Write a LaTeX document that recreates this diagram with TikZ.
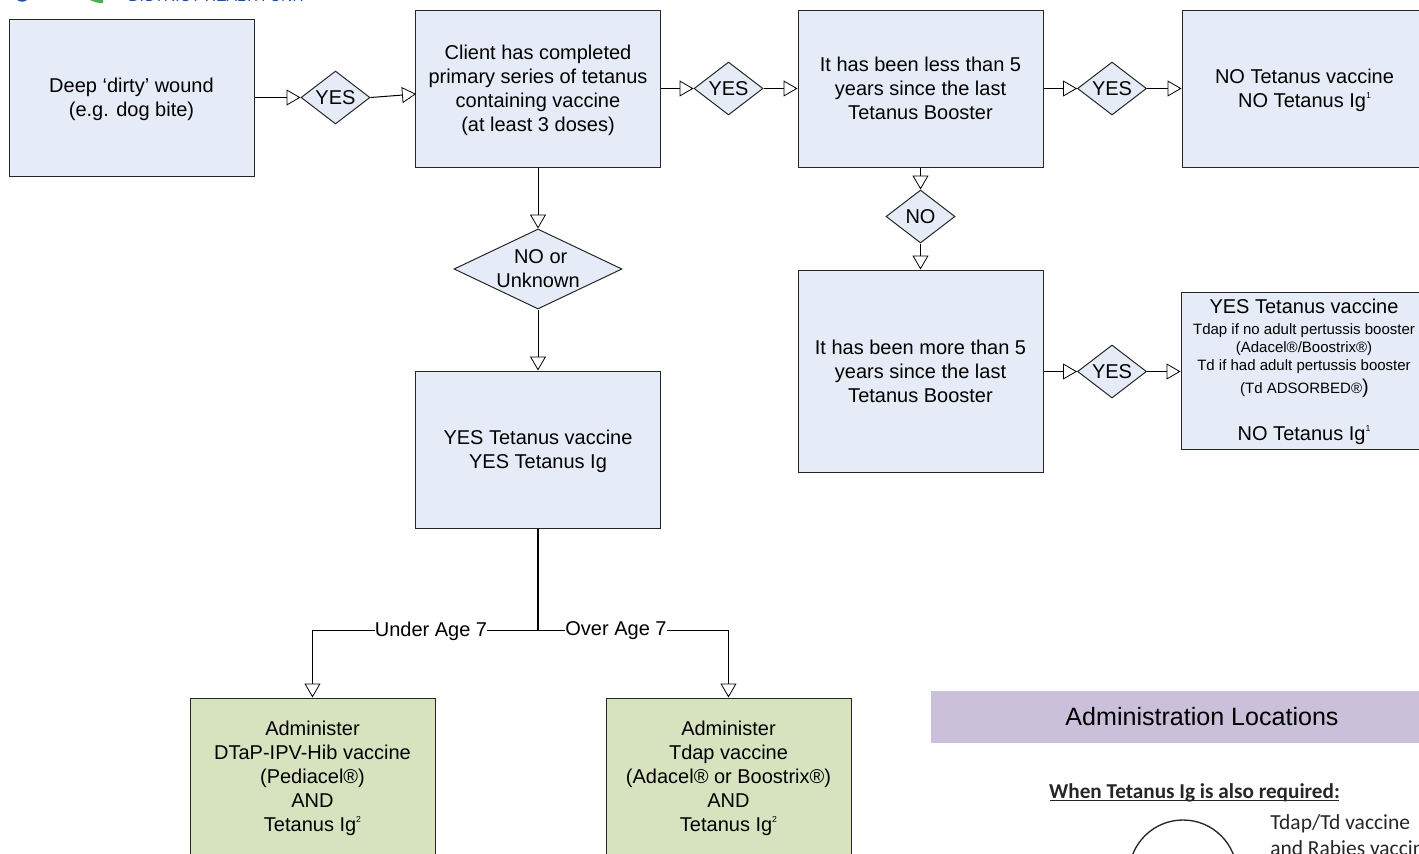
\documentclass[tikz,border=0pt]{standalone}
\usepackage{fontspec}
\setmainfont{Liberation Sans}
\newfontfamily\carl{Carlito}
\usetikzlibrary{arrows.meta,shapes.geometric,calc}
\definecolor{boxblue}{HTML}{E6ECF7}
\definecolor{boxgreen}{HTML}{D7E3BF}
\definecolor{bandpurple}{HTML}{CAC0DA}
\definecolor{logoblue}{HTML}{1F4E9E}
\definecolor{logogreen}{HTML}{4CAF50}
\definecolor{imgtext}{HTML}{262626}
\newcommand{\sm}{\fontsize{11.25}{13.5}\selectfont}
\newcommand{\supn}[1]{\raisebox{0.42em}{\fontsize{6.5}{7}\selectfont #1}}
\tikzset{
  every node/.style={font=\fontsize{15}{18}\selectfont, text=black},
  flowbox/.style={draw=black!85, line width=0.75pt, rectangle, inner sep=0pt, align=center, minimum width=183.75pt, minimum height=117.75pt},
  bluebox/.style={flowbox, fill=boxblue},
  greenbox/.style={flowbox, fill=boxgreen},
  boxtext/.style={inner sep=0pt, align=center, yshift=-1.1pt},
  choice/.style={draw=black!85, line width=0.75pt, diamond, aspect=1.3, inner sep=0pt, fill=boxblue, align=center, minimum width=51.75pt, minimum height=39.75pt},
  flow/.style={draw=black, line width=0.75pt, -{Triangle[open, length=10.5pt, width=12pt, line width=0.6pt]}},
  plainflow/.style={draw=black, line width=0.75pt},
  edgelabel/.style={fill=white, inner xsep=0pt, inner ysep=0.7pt}
}
\begin{document}
\begin{tikzpicture}[x=0.75pt,y=-0.75pt]
\useasboundingbox (0,0) rectangle (1419,853);
\clip (0,0) rectangle (1419,853);
% logo fragments
\fill[logoblue] (17,0) .. controls (20,2) and (24,2.5) .. (27,0) -- cycle;
\fill[logogreen] (90,0) .. controls (94,2) and (99,3.5) .. (103,3) -- (103,0) -- cycle;
\node[anchor=base west, inner sep=0pt, font=\fontsize{11.75}{14}\selectfont, text=logoblue] (logotext) at (128,2) {DISTRICT HEALTH UNIT};
% boxes
\node[bluebox] (A) at (131.5,97.5) {};
\node[boxtext] (Atext) at (A) {Deep ‘dirty’ wound\\(e.g. dog bite)};
\node[bluebox] (B) at (538,88.5) {};
\node[boxtext] (Btext) at (B) {Client has completed\\primary series of tetanus\\containing vaccine\\(at least 3 doses)};
\node[bluebox] (C) at (920.5,88.5) {It has been less than 5\\years since the last\\Tetanus Booster};
\node[bluebox] (D) at (1304.5,88.5) {};
\node[boxtext] (Dtext) at (D) {NO Tetanus vaccine\\NO Tetanus Ig\supn{1}};
\node[bluebox, minimum height=151.5pt] (E) at (920.5,371) {It has been more than 5\\years since the last\\Tetanus Booster};
\node[bluebox] (F) at (1303.5,371) {};
\node[anchor=base, inner sep=0pt] (F1) at (1304,313.5) {YES Tetanus vaccine};
\node[anchor=base, inner sep=0pt, font=\sm] (F2) at (1304,334) {Tdap if no adult pertussis booster};
\node[anchor=base, inner sep=0pt, font=\sm] (F3) at (1304,352) {(Adacel®/Boostrix®)};
\node[anchor=base, inner sep=0pt, font=\sm] (F4) at (1304,370) {Td if had adult pertussis booster};
\node[anchor=base, inner sep=0pt, font=\sm] (F5) at (1304.5,393) {(Td ADSORBED®{\fontsize{15}{18}\selectfont)}};
\node[anchor=base, inner sep=0pt] (F6) at (1304,440) {NO Tetanus Ig\supn{1}};
\node[bluebox] (G) at (538,449.5) {};
\node[boxtext] (Gtext) at (G) {YES Tetanus vaccine\\YES Tetanus Ig};
\node[greenbox] (H) at (312.5,776.5) {};
\node[boxtext] (Htext) at (H) {Administer\\DTaP-IPV-Hib vaccine\\(Pediacel®)\\AND\\Tetanus Ig\supn{2}};
\node[greenbox] (I) at (728.5,776.5) {};
\node[boxtext] (Itext) at (I) {Administer\\Tdap vaccine\\(Adacel® or Boostrix®)\\AND\\Tetanus Ig\supn{2}};
% decisions
\node[choice] (d1) at (335.5,97.5) {YES};
\node[choice] (d2) at (728.5,88.5) {YES};
\node[choice] (d3) at (1112,88.5) {YES};
\node[choice] (d4) at (920.5,216.5) {NO};
\node[choice] (d5) at (1112,371.5) {YES};
\node[choice, minimum width=126pt, minimum height=60pt, aspect=2.1] (d6) at (538,269) {};
\node[inner sep=0pt, align=center] (d6text) at (538,268.5) {\hspace*{4pt}NO or\\Unknown};
% connectors
\coordinate (bin) at (416,94);
\coordinate (branch) at (538,630);
\draw[flow] (A.east |- d1) -- (d1.west);
\draw[flow] (d1.east) -- (bin);
\draw[flow] (B.east) -- (d2.west);
\draw[flow] (d2.east) -- (C.west);
\draw[flow] (C.east) -- (d3.west);
\draw[flow] (d3.east) -- (D.west);
\draw[flow] (C.south) -- (d4.north);
\draw[flow] (d4.south) -- (E.north);
\draw[flow] (E.east |- d5) -- (d5.west);
\draw[flow] (d5.east) -- (F.west |- d5);
\draw[flow] (B.south) -- (d6.north);
\draw[flow] (d6.south) -- (G.north);
\draw[plainflow, line width=1.1pt] (G.south) -- (branch);
\draw[flow] (branch) -| (H.north);
\draw[flow] (branch) -| (I.north);
\node[edgelabel] (under) at (431,631.5) {Under Age 7};
\node[edgelabel] (over) at (616,630.5) {Over Age 7};
% locations panel
\fill[bandpurple] (931,691) rectangle (1419,743);
\node[font=\fontsize{18.8}{22}\selectfont] (loc) at (1202,716.5) {Administration Locations};
\node[anchor=base, inner sep=0pt, font=\carl\bfseries\fontsize{15.9}{19}\selectfont, text=imgtext] (when) at (1194.5,798) {When Tetanus Ig is also required:};
\draw[imgtext, line width=1.1pt] (1050,800.5) -- (1339,800.5);
\draw[imgtext, line width=1pt] (1183,874) circle[radius=54];
\node[anchor=base west, inner sep=0pt, font=\carl\fontsize{16.1}{19}\selectfont, text=imgtext] (t1) at (1270,829) {Tdap/Td vaccine};
\node[anchor=base west, inner sep=0pt, font=\carl\fontsize{16.1}{19}\selectfont, text=imgtext] (t2) at (1270,855) {and Rabies vaccine};
\end{tikzpicture}
\end{document}
